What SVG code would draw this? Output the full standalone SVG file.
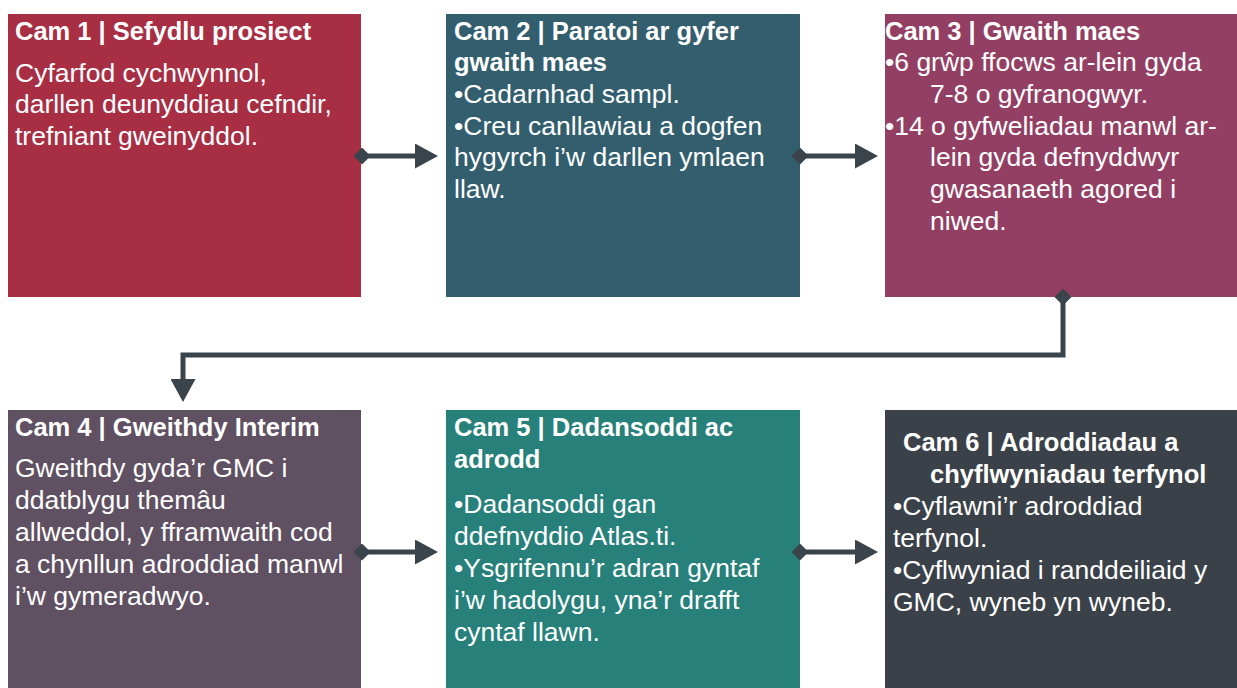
<svg xmlns="http://www.w3.org/2000/svg" width="1237" height="688" viewBox="0 0 1237 688">
<defs>
<style>
text{font-family:"Liberation Sans",Arial,sans-serif;fill:#fff;font-size:26.5px}
.t{font-weight:bold;font-size:25.5px}
.c{stroke:#3B434B;stroke-width:5;fill:none}
</style>
<marker id="ah" markerWidth="5" markerHeight="5" refX="1" refY="2.5" orient="auto" markerUnits="strokeWidth"><path d="M0,0 L4.6,2.5 L0,5 Z" fill="#3B434B"/></marker>
<marker id="dm" markerWidth="3.4" markerHeight="3.4" refX="1.7" refY="1.7" orient="auto" markerUnits="strokeWidth"><path d="M0,1.7 L1.7,0 L3.4,1.7 L1.7,3.4 Z" fill="#3B434B"/></marker>
</defs>
<rect width="1237" height="688" fill="#fff"/>
<g id="n1"><rect x="8" y="14" width="353" height="283" fill="#A82E44"/>
<text x="15" y="40" class="t">Cam 1 | Sefydlu prosiect</text>
<text x="15" y="82">Cyfarfod cychwynnol,</text>
<text x="15" y="113">darllen deunyddiau cefndir,</text>
<text x="15" y="145">trefniant gweinyddol.</text></g>
<g id="n2"><rect x="446" y="14" width="354" height="283" fill="#335E6E"/>
<text x="454" y="40" class="t">Cam 2 | Paratoi ar gyfer</text>
<text x="454" y="71" class="t">gwaith maes</text>
<text x="454" y="103">•Cadarnhad sampl.</text>
<text x="454" y="135">•Creu canllawiau a dogfen</text>
<text x="454" y="166">hygyrch i’w darllen ymlaen</text>
<text x="454" y="198">llaw.</text></g>
<g id="n3"><rect x="885" y="14" width="352" height="283" fill="#933F63"/>
<text x="885" y="40" class="t">Cam 3 | Gwaith maes</text>
<text x="885" y="71">•6 grŵp ffocws ar-lein gyda</text>
<text x="930" y="103">7-8 o gyfranogwyr.</text>
<text x="885" y="135">•14 o gyfweliadau manwl ar-</text>
<text x="930" y="166">lein gyda defnyddwyr</text>
<text x="930" y="198">gwasanaeth agored i</text>
<text x="930" y="230">niwed.</text></g>
<g id="n4"><rect x="8" y="410" width="353" height="278" fill="#5F5062"/>
<text x="15" y="436" class="t">Cam 4 | Gweithdy Interim</text>
<text x="15" y="477">Gweithdy gyda’r GMC i</text>
<text x="15" y="509">ddatblygu themâu</text>
<text x="15" y="541">allweddol, y fframwaith cod</text>
<text x="15" y="573">a chynllun adroddiad manwl</text>
<text x="15" y="605">i’w gymeradwyo.</text></g>
<g id="n5"><rect x="446" y="410" width="354" height="278" fill="#27807A"/>
<text x="454" y="436" class="t">Cam 5 | Dadansoddi ac</text>
<text x="454" y="468" class="t">adrodd</text>
<text x="454" y="513">•Dadansoddi gan</text>
<text x="454" y="545">ddefnyddio Atlas.ti.</text>
<text x="454" y="577">•Ysgrifennu’r adran gyntaf</text>
<text x="454" y="609">i’w hadolygu, yna’r drafft</text>
<text x="454" y="641">cyntaf llawn.</text></g>
<g id="n6"><rect x="885" y="410" width="352" height="278" fill="#3B4148"/>
<text x="903" y="451" class="t">Cam 6 | Adroddiadau a</text>
<text x="930" y="483" class="t">chyflwyniadau terfynol</text>
<text x="893" y="515">•Cyflawni’r adroddiad</text>
<text x="893" y="547">terfynol.</text>
<text x="893" y="579">•Cyflwyniad i randdeiliaid y</text>
<text x="893" y="611">GMC, wyneb yn wyneb.</text></g>
<g id="connectors">
<path class="c" d="M362,156 H420" marker-start="url(#dm)" marker-end="url(#ah)"/>
<path class="c" d="M800,156 H860" marker-start="url(#dm)" marker-end="url(#ah)"/>
<path class="c" d="M1063,297 V355 H183 V384" marker-start="url(#dm)" marker-end="url(#ah)"/>
<path class="c" d="M362,552 H420" marker-start="url(#dm)" marker-end="url(#ah)"/>
<path class="c" d="M800,552 H860" marker-start="url(#dm)" marker-end="url(#ah)"/>
</g>
</svg>
